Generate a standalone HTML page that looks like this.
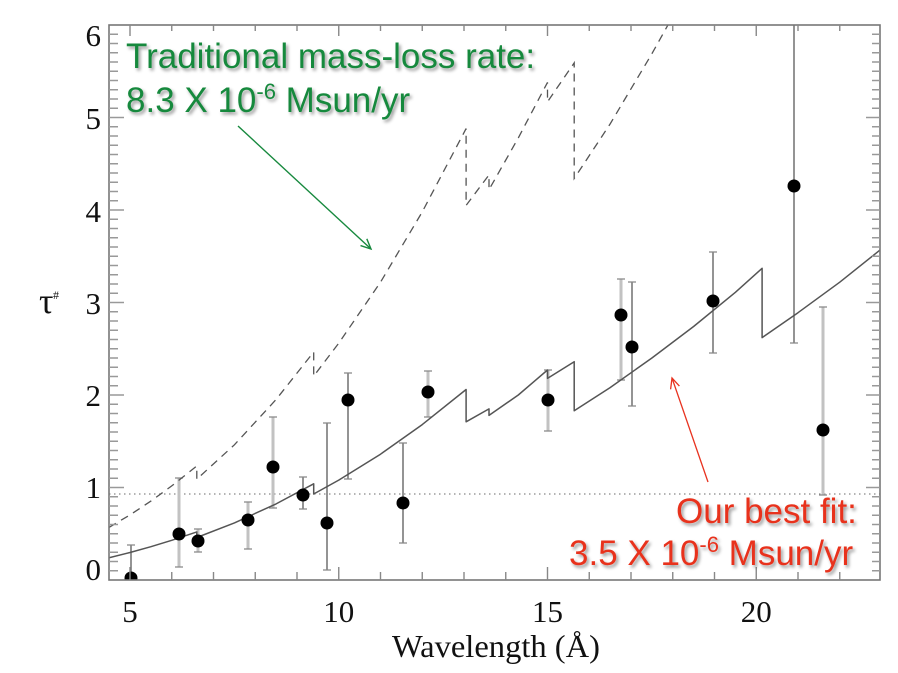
<!DOCTYPE html>
<html>
<head>
<meta charset="utf-8">
<style>
  html, body { margin: 0; padding: 0; background: #ffffff; }
  svg { display: block; }
</style>
</head>
<body>
<svg width="898" height="673" viewBox="0 0 898 673" xmlns="http://www.w3.org/2000/svg">
  <defs>
    <clipPath id="plot">
      <rect x="109" y="25" width="771" height="555"/>
    </clipPath>
    <filter id="sh" x="-5%" y="-20%" width="115%" height="150%">
      <feDropShadow dx="2" dy="2.5" stdDeviation="1.5" flood-color="#000" flood-opacity="0.4"/>
    </filter>
  </defs>
  <rect width="898" height="673" fill="#fff"/>

  <!-- dotted reference line -->
  <line x1="109" y1="494" x2="880" y2="494" stroke="#888" stroke-width="1.2" stroke-dasharray="1.5 3.5"/>

  <g clip-path="url(#plot)">
    <!-- error bars: light -->
    <g stroke="#c2c2c2" stroke-width="3" fill="none">
      <line x1="179" y1="478" x2="179" y2="567"/>
      <line x1="198" y1="529" x2="198" y2="552"/>
      <line x1="248" y1="502" x2="248" y2="549"/>
      <line x1="273" y1="417" x2="273" y2="508"/>
      <line x1="428" y1="371" x2="428" y2="417"/>
      <line x1="548" y1="370" x2="548" y2="431"/>
      <line x1="621" y1="279" x2="621" y2="380"/>
      <line x1="823" y1="307" x2="823" y2="495"/>
    </g>
    <!-- error bars: dark -->
    <g stroke="#666" stroke-width="1.4" fill="none">
      <line x1="131" y1="545" x2="131" y2="600"/>
      <line x1="303" y1="477" x2="303" y2="509"/>
      <line x1="327" y1="423" x2="327" y2="570"/>
      <line x1="348" y1="373" x2="348" y2="479"/>
      <line x1="403" y1="443" x2="403" y2="543"/>
      <line x1="632" y1="282" x2="632" y2="406"/>
      <line x1="713" y1="252" x2="713" y2="353"/>
      <line x1="794" y1="20" x2="794" y2="343"/>
    </g>
    <!-- caps -->
    <g stroke="#888" stroke-width="1.3" fill="none">
      <path d="M127 545h8
               M175 478h8 M175 567h8
               M194 529h8 M194 552h8
               M244 502h8 M244 549h8
               M269 417h8 M269 508h8
               M299 477h8 M299 509h8
               M323 423h8 M323 570h8
               M344 373h8 M344 479h8
               M399 443h8 M399 543h8
               M424 371h8 M424 417h8
               M544 370h8 M544 431h8
               M617 279h8 M617 380h8
               M628 282h8 M628 406h8
               M709 252h8 M709 353h8
               M790 343h8
               M819 307h8 M819 495h8"/>
    </g>

    <!-- dashed model (traditional) -->
    <path d="M109,527.4 L130,514.9 L150.9,501.1 L171.75,485.9 L196.8,466 L196.8,479.2 L234.4,444.8 L276.1,399.5 L313.7,352 L313.7,376.1 L338.75,343.2 L380.5,282.2 L422.25,211.9 L466.1,128.6 L466.1,205.4 L489,174.9 L489,189.7 L518.3,137.9 L547.5,82.4 L547.5,101.8 L574.2,62.9 L574.2,178.5 L610.1,124 L651.9,53.7 L693.6,-21"
          fill="none" stroke="#555" stroke-width="1.3" stroke-dasharray="8 6"/>

    <!-- solid model (best fit) -->
    <path d="M109,557.8 L130,552.5 L150.9,546.7 L171.75,540.3 L196.8,531.9 L196.8,537.5 L234.4,522.9 L276.1,503.9 L313.7,483.8 L313.7,494 L338.75,480.1 L380.5,454.2 L422.25,424.6 L466.1,389.5 L466.1,421.8 L489,408.9 L489,415.4 L518.3,395 L547.5,370 L547.5,378.4 L574.2,361.7 L574.2,410.7 L610.1,387.6 L651.9,358 L693.6,326.5 L735.4,292.3 L762.1,268.3 L762.1,337.6 L798,312.7 L839.75,282.2 L880.3,249.8"
          fill="none" stroke="#555" stroke-width="1.5" stroke-linejoin="round"/>

    <!-- data points -->
    <g fill="#000">
      <circle cx="131" cy="578" r="6.5"/>
      <circle cx="179" cy="534" r="6.5"/>
      <circle cx="198" cy="541" r="6.5"/>
      <circle cx="248" cy="520" r="6.5"/>
      <circle cx="273" cy="467" r="6.5"/>
      <circle cx="303" cy="495" r="6.5"/>
      <circle cx="327" cy="523" r="6.5"/>
      <circle cx="348" cy="400" r="6.5"/>
      <circle cx="403" cy="503" r="6.5"/>
      <circle cx="428" cy="392" r="6.5"/>
      <circle cx="548" cy="400" r="6.5"/>
      <circle cx="621" cy="315" r="6.5"/>
      <circle cx="632" cy="347" r="6.5"/>
      <circle cx="713" cy="301" r="6.5"/>
      <circle cx="794" cy="186" r="6.5"/>
      <circle cx="823" cy="430" r="6.5"/>
    </g>
  </g>

  <!-- axes frame -->
  <rect x="109" y="25" width="771" height="555" fill="none" stroke="#777" stroke-width="1.6"/>

  <!-- y ticks -->
  <g stroke="#999" stroke-width="1.5" fill="none">
    <path d="M109 570.75h9 M109 561.5h9 M109 552.25h9 M109 543h9 M109 533.75h9 M109 524.5h9 M109 515.25h9 M109 506h9 M109 496.75h9
             M109 478.25h9 M109 469h9 M109 459.75h9 M109 450.5h9 M109 441.25h9 M109 432h9 M109 422.75h9 M109 413.5h9 M109 404.25h9
             M109 385.75h9 M109 376.5h9 M109 367.25h9 M109 358h9 M109 348.75h9 M109 339.5h9 M109 330.25h9 M109 321h9 M109 311.75h9
             M109 293.25h9 M109 284h9 M109 274.75h9 M109 265.5h9 M109 256.25h9 M109 247h9 M109 237.75h9 M109 228.5h9 M109 219.25h9
             M109 200.75h9 M109 191.5h9 M109 182.25h9 M109 173h9 M109 163.75h9 M109 154.5h9 M109 145.25h9 M109 136h9 M109 126.75h9
             M109 108.25h9 M109 99h9 M109 89.75h9 M109 80.5h9 M109 71.25h9 M109 62h9 M109 52.75h9 M109 43.5h9 M109 34.25h9
             M109 487.5h15 M109 395h15 M109 302.5h15 M109 210h15 M109 117.5h15"/>
    <path d="M880 570.75h-8 M880 561.5h-8 M880 552.25h-8 M880 543h-8 M880 533.75h-8 M880 524.5h-8 M880 515.25h-8 M880 506h-8 M880 496.75h-8
             M880 478.25h-8 M880 469h-8 M880 459.75h-8 M880 450.5h-8 M880 441.25h-8 M880 432h-8 M880 422.75h-8 M880 413.5h-8 M880 404.25h-8
             M880 385.75h-8 M880 376.5h-8 M880 367.25h-8 M880 358h-8 M880 348.75h-8 M880 339.5h-8 M880 330.25h-8 M880 321h-8 M880 311.75h-8
             M880 293.25h-8 M880 284h-8 M880 274.75h-8 M880 265.5h-8 M880 256.25h-8 M880 247h-8 M880 237.75h-8 M880 228.5h-8 M880 219.25h-8
             M880 200.75h-8 M880 191.5h-8 M880 182.25h-8 M880 173h-8 M880 163.75h-8 M880 154.5h-8 M880 145.25h-8 M880 136h-8 M880 126.75h-8
             M880 108.25h-8 M880 99h-8 M880 89.75h-8 M880 80.5h-8 M880 71.25h-8 M880 62h-8 M880 52.75h-8 M880 43.5h-8 M880 34.25h-8
             M880 487.5h-14 M880 395h-14 M880 302.5h-14 M880 210h-14 M880 117.5h-14"/>
  </g>
  <!-- x ticks -->
  <g stroke="#888" stroke-width="1.4" fill="none">
    <path d="M171.75 580v-8 M213.5 580v-8 M255.25 580v-8 M297 580v-8 M380.5 580v-8 M422.25 580v-8 M464 580v-8 M505.75 580v-8
             M589.25 580v-8 M631 580v-8 M672.75 580v-8 M714.5 580v-8 M798 580v-8 M839.75 580v-8
             M130 580v-13 M338.75 580v-13 M547.5 580v-13 M756.25 580v-13"/>
    <path d="M171.75 25v6 M213.5 25v6 M255.25 25v6 M297 25v6 M380.5 25v6 M422.25 25v6 M464 25v6 M505.75 25v6
             M589.25 25v6 M631 25v6 M672.75 25v6 M714.5 25v6 M798 25v6 M839.75 25v6
             M130 25v11 M338.75 25v11 M547.5 25v11 M756.25 25v11"/>
  </g>

  <!-- tick labels -->
  <g font-family="'Liberation Serif', 'Times New Roman', serif" font-size="31" fill="#111">
    <g text-anchor="end">
      <text x="101" y="46">6</text>
      <text x="101" y="129">5</text>
      <text x="101" y="222">4</text>
      <text x="101" y="314">3</text>
      <text x="101" y="406">2</text>
      <text x="101" y="498">1</text>
      <text x="101" y="580">0</text>
    </g>
    <g text-anchor="middle">
      <text x="130" y="622">5</text>
      <text x="338.75" y="622">10</text>
      <text x="547.5" y="622">15</text>
      <text x="756.25" y="622">20</text>
    </g>
  </g>

  <!-- axis titles -->
  <text x="496" y="657" text-anchor="middle" font-family="'Liberation Serif', 'Times New Roman', serif" font-size="32" fill="#111" textLength="208" lengthAdjust="spacingAndGlyphs">Wavelength (Å)</text>
  <text x="39" y="313" font-family="'Liberation Serif', 'DejaVu Serif', serif" font-size="36" fill="#111">τ</text>
  <text x="53" y="299" font-family="'Liberation Serif', 'DejaVu Serif', serif" font-size="12" fill="#111">#</text>

  <!-- green annotation -->
  <g font-family="'Liberation Sans', Arial, sans-serif" font-size="35" fill="#17893e" filter="url(#sh)">
    <text x="126" y="68">Traditional mass-loss rate:</text>
    <text x="126" y="112">8.3 X 10<tspan font-size="22" dy="-13">-6</tspan><tspan dy="13"> Msun/yr</tspan></text>
  </g>
  <g stroke="#17893e" stroke-width="1.4" fill="none">
    <line x1="238" y1="126" x2="371" y2="249"/>
    <path d="M366.8,238.8 L371,249 L360.5,245.6"/>
  </g>

  <!-- red annotation -->
  <g font-family="'Liberation Sans', Arial, sans-serif" font-size="35" fill="#e8321f" filter="url(#sh)">
    <text x="676" y="523">Our best fit:</text>
    <text x="569" y="565">3.5 X 10<tspan font-size="22" dy="-13">-6</tspan><tspan dy="13"> Msun/yr</tspan></text>
  </g>
  <g stroke="#e8321f" stroke-width="1.3" fill="none">
    <line x1="708" y1="482" x2="672" y2="378"/>
    <path d="M670.6,389.3 L672,378 L679.4,386.1"/>
  </g>
</svg>
</body>
</html>
